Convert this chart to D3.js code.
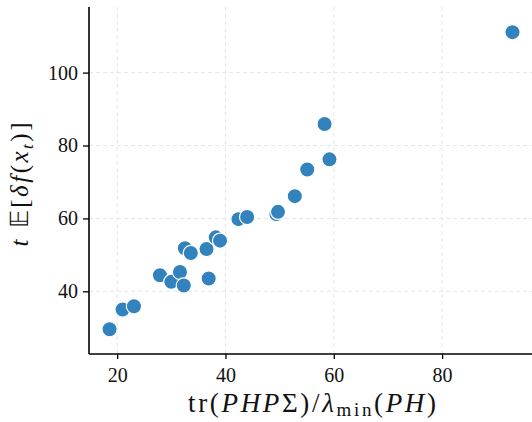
<!DOCTYPE html>
<html>
<head>
<meta charset="utf-8">
<script src="https://cdn.jsdelivr.net/npm/d3@7"></script>
<style>
  body { margin: 0; background: #fff; }
</style>
</head>
<body>
<div id="chart"></div>
<script>
const width = 532;
const height = 422;
const margin = { left: 89, right: 0, top: 7, bottom: 68 };

// x: tr(PHPΣ)/λmin(PH), y: t E[δf(x_t)]
const xs = [18.6, 21.0, 23.1, 27.9, 30.0, 31.6, 32.3, 36.9, 32.5, 33.6, 36.5, 38.2, 39.0, 42.4, 44.0, 49.4, 49.7, 52.8, 55.1, 58.3, 59.2, 93.0];
const ys = [29.6, 35.0, 35.9, 44.4, 42.6, 45.3, 41.6, 43.5, 51.8, 50.5, 51.6, 54.8, 53.9, 59.8, 60.4, 61.2, 61.8, 66.1, 73.4, 85.9, 76.2, 111.1];
const xTicks = [20, 40, 60, 80];
const yTicks = [40, 60, 80, 100];

const times = "'Liberation Serif', 'Times New Roman', Times, serif";

const svg = d3.select('#chart')
  .append('svg')
    .attr('width', width)
    .attr('height', height);

const x = d3.scaleLinear().domain([14.8, 96.6]).range([margin.left, width - margin.right]);
const y = d3.scaleLinear().domain([22.8, 118]).range([height - margin.bottom, margin.top]);

// grid
svg.append('g').selectAll('line').data(xTicks).join('line')
  .attr('x1', d => x(d)).attr('x2', d => x(d))
  .attr('y1', y.range()[1]).attr('y2', y.range()[0])
  .attr('stroke', '#e3e3e3').attr('stroke-width', 0.9).attr('stroke-dasharray', '4,3');
svg.append('g').selectAll('line').data(yTicks).join('line')
  .attr('y1', d => y(d)).attr('y2', d => y(d))
  .attr('x1', x.range()[0]).attr('x2', x.range()[1])
  .attr('stroke', '#e3e3e3').attr('stroke-width', 0.9).attr('stroke-dasharray', '4,3');

// points
svg.append('g').selectAll('circle').data(xs.map((d, i) => [d, ys[i]])).join('circle')
  .attr('cx', d => x(d[0]))
  .attr('cy', d => y(d[1]))
  .attr('r', 7.6)
  .attr('fill', '#3182bd')
  .attr('stroke', '#fff')
  .attr('stroke-width', 1.2);

// axes
const xAxis = svg.append('g')
  .attr('transform', `translate(0,${y.range()[0]})`)
  .call(d3.axisBottom(x).tickValues(xTicks).tickSize(5).tickPadding(9).tickFormat(d3.format('d')));
const yAxis = svg.append('g')
  .attr('transform', `translate(${x.range()[0]},0)`)
  .call(d3.axisLeft(y).tickValues(yTicks).tickSize(6).tickPadding(5).tickFormat(d3.format('d')));

[xAxis, yAxis].forEach(a => {
  a.attr('font-family', times).attr('font-size', 20);
  a.select('.domain').attr('stroke', '#000').attr('stroke-width', 1.6);
  a.selectAll('.tick line').attr('stroke', '#000').attr('stroke-width', 1.3);
  a.selectAll('.tick text').attr('fill', '#111');
});
xAxis.select('.domain').attr('d', `M${x.range()[0]},0H${x.range()[1]}`);
yAxis.select('.domain').attr('d', `M0,${y.range()[1]}V${y.range()[0]}`);

// x label
const xl = svg.append('text')
  .attr('x', 312).attr('y', 412)
  .attr('text-anchor', 'middle')
  .attr('font-family', times)
  .attr('font-size', 27)
  .attr('textLength', 248)
  .attr('lengthAdjust', 'spacing')
  .attr('fill', '#111');
xl.append('tspan').text('tr(');
xl.append('tspan').attr('font-style', 'italic').text('PHP');
xl.append('tspan').text('Σ)/');
xl.append('tspan').attr('font-style', 'italic').text('λ');
xl.append('tspan').attr('dy', 4).attr('font-size', 19).text('min');
xl.append('tspan').attr('dy', -4).text('(');
xl.append('tspan').attr('font-style', 'italic').text('PH');
xl.append('tspan').text(')');

// y label
const yl = svg.append('text')
  .attr('transform', 'translate(28,184.5) rotate(-90)')
  .attr('text-anchor', 'middle')
  .attr('font-family', times)
  .attr('font-size', 25)
  .attr('textLength', 124)
  .attr('lengthAdjust', 'spacing')
  .attr('fill', '#111');
yl.append('tspan').attr('font-style', 'italic').text('t ');
yl.append('tspan').text('𝔼[');
yl.append('tspan').attr('font-style', 'italic').text('δf');
yl.append('tspan').text('(');
yl.append('tspan').attr('font-style', 'italic').text('x');
yl.append('tspan').attr('dy', 5).attr('font-size', 17).attr('font-style', 'italic').text('t');
yl.append('tspan').attr('dy', -5).text(')]');
</script>
</body>
</html>
